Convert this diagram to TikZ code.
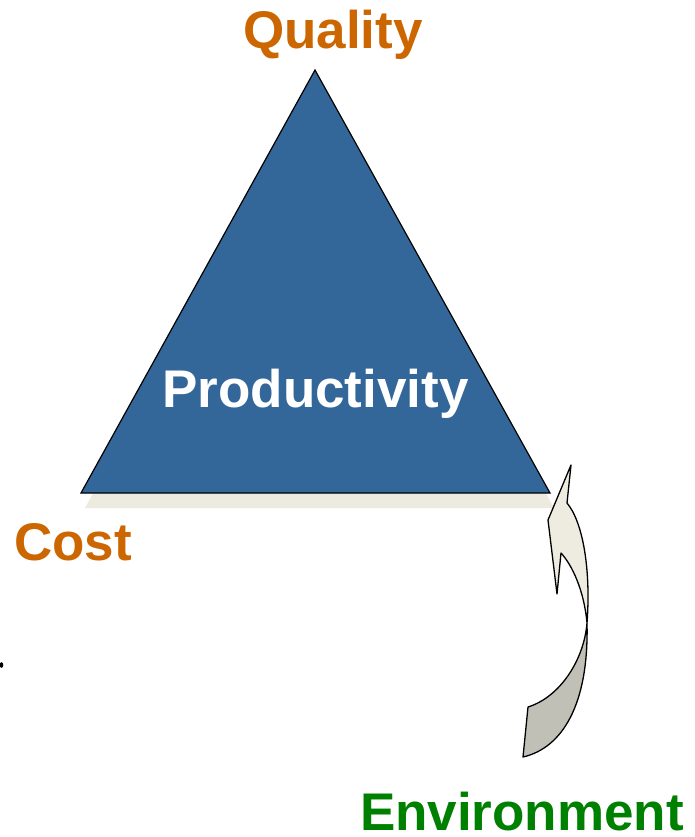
\documentclass[tikz,border=0pt]{standalone}
\usepackage{fontspec}
\setmainfont{Liberation Sans}
\definecolor{triblue}{HTML}{336699}
\definecolor{shadowc}{HTML}{EDEBE0}
\definecolor{orangec}{HTML}{CC6600}
\definecolor{greenc}{HTML}{008000}
\definecolor{lightarr}{HTML}{EEECE1}
\definecolor{darkarr}{HTML}{C0C0B6}
\tikzset{
  lbl/.style={inner sep=0pt, anchor=base, font=\fontsize{53}{62}\selectfont\bfseries},
  arrpart/.style={draw=black, line width=1.3pt, line join=round}
}
\begin{document}
\begin{tikzpicture}[x=1pt,y=-1pt]
\useasboundingbox (0,0) rectangle (695,837);
% shadow
\fill[shadowc] (319,85) -- (85,508) -- (554,508) -- cycle;
% triangle
\coordinate (top) at (315,70);
\coordinate (bl) at (81,493);
\coordinate (br) at (550,493);
\draw[fill=triblue, line width=1.2pt, line join=miter] (top) -- (bl) -- (br) -- cycle;
% labels
\node[lbl, text=white] (prod) at (315.5,407) {Productivity};
\node[lbl, text=orangec] (qual) at (333,49) {Quality};
\node[lbl, text=orangec] (cost) at (73,560) {Cost};
\node[lbl, text=greenc] (env) at (522,830) {Environment};
% small dot
\fill[black] (1.5,665) ellipse (1.8 and 2.8);
% curved arrow: lower (dark) part
\coordinate (X) at (587,623);
\draw[arrpart, fill=darkarr] (X) .. controls (584,660) and (560,697) .. (528,707)
  -- (523,757) .. controls (562,748) and (589,705) .. (X);
% upper (light) part with head
\draw[arrpart, fill=lightarr] (571,465) -- (548,520) -- (557,594) -- (561,553)
  .. controls (572,565) and (584,590) .. (X)
  .. controls (591,570) and (583,522) .. (567,503) -- cycle;
\end{tikzpicture}
\end{document}
